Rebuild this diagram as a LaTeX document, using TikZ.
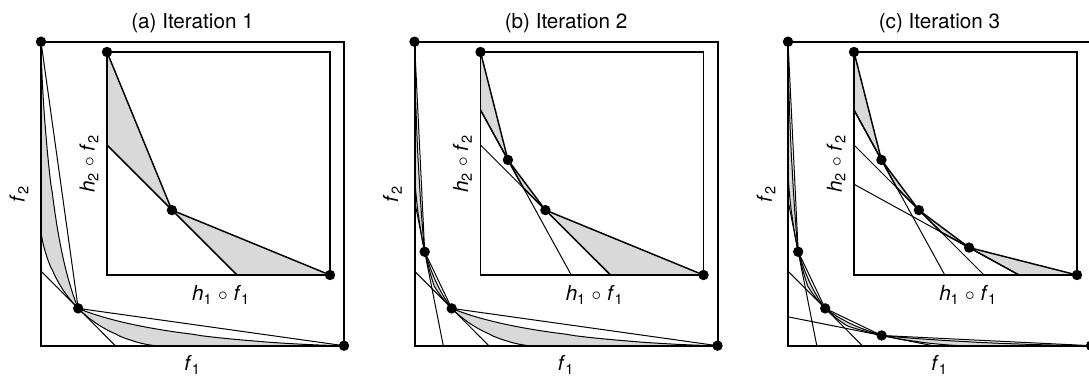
\documentclass[tikz,border=0pt]{standalone}
\usepackage{fontspec}
\setmainfont{TeX Gyre Heros}
% image of a segment of the transformed space in the objective space
\newcommand\hmap[4]{plot[domain=0:1,samples=30,variable=\lam] ({g(#1+(#3-#1)*\lam)},{g(#2+(#4-#2)*\lam)})}
\newcommand\hmapto[4]{-- plot[domain=0:1,samples=30,variable=\lam] ({g(#1+(#3-#1)*\lam)},{g(#2+(#4-#2)*\lam)})}
\tikzset{
  boxline/.style={line width=1.5pt},
  inbox/.style={line width=1.3pt},
  front/.style={line width=1.1pt},
  supp/.style={line width=0.75pt},
  fcurve/.style={line width=0.75pt},
  gap/.style={fill=black!15},
  ptdot/.style={circle,fill,inner sep=0pt,minimum size=7.8pt},
  lbl/.style={font=\fontsize{15.5pt}{18pt}\selectfont,inner sep=0pt}
}
\begin{document}
\begin{tikzpicture}[x=0.75pt,y=0.75pt,
  declare function={g(\s)=0.6*max(\s,0.0001)^1.4+0.4*max(\s,0.0001)^2.6;}]
\useasboundingbox (0,0) rectangle (1089,379);

% titles and axis labels
\foreach \k/\tg/\n in {0/a/1,1/b/2,2/c/3} {
  \pgfmathsetmacro\X{41+373.5*\k}
  \node[lbl] (title\k) at (\X+151.5,356) {(\tg) Iteration \n};
  \node[lbl] (fx\k) at (\X+151.5,14) {\textit{f}\textsubscript{1}};
  \node[lbl,rotate=90] (fy\k) at (\X-22,185) {\textit{f}\textsubscript{2}};
  \node[lbl] (hx\k) at (\X+180,84) {\textit{h}\textsubscript{1} $\circ$ \textit{f}\textsubscript{1}};
  \node[lbl,rotate=90] (hy\k) at (\X+48,215) {\textit{h}\textsubscript{2} $\circ$ \textit{f}\textsubscript{2}};
}

% (a) objective space
\begin{scope}[shift={(41,33.3)},x=227.25pt,y=228pt]
  \fill[gap] \hmap{0}{1}{0.291}{0.291} \hmapto{0.291}{0.291}{0}{0.583} -- cycle;
  \fill[gap] \hmap{0.291}{0.291}{1}{0} \hmapto{0.583}{0}{0.291}{0.291} -- cycle;
  \draw[fcurve] \hmap{0}{1}{0.291}{0.291} \hmap{0.291}{0.291}{1}{0};
  \draw[fcurve] \hmap{0}{0.583}{0.291}{0.291} \hmapto{0.291}{0.291}{0.583}{0};
  \coordinate (aF0) at (0,1);
  \coordinate (aF1) at (0.1227,0.1227);
  \coordinate (aF2) at (1,0);
  \coordinate (aT1) at (0,0.2454);
  \coordinate (aT2) at (0.2454,0);
  \draw[fcurve] (aT1) -- (aT2);
  \draw[fcurve] (aF0) -- (aF1) -- (aF2);
  \draw[boxline] (0,0) rectangle (1,1);
  \foreach \c in {aF0,aF1,aF2} \node[ptdot] (\c d) at (\c) {};
\end{scope}
% (a) transformed space
\begin{scope}[shift={(107,104)},x=167.25pt,y=167.25pt]
  \coordinate (aH0) at (0,1);
  \coordinate (aH1) at (0.291,0.291);
  \coordinate (aH2) at (1,0);
  \coordinate (aL2l) at (0,0.583);
  \coordinate (aL2b) at (0.583,0);
  \fill[gap] (aH0) -- (aH1) -- (aL2l) -- cycle;
  \fill[gap] (aH1) -- (aH2) -- (aL2b) -- cycle;
  \draw[inbox] (0,0) rectangle (1,1);
  \draw[front] (aL2l) -- (aL2b);
  \draw[front] (aH0) -- (aH1) -- (aH2);
  \foreach \c in {aH0,aH1,aH2} \node[ptdot] (\c d) at (\c) {};
\end{scope}

% (b) objective space
\begin{scope}[shift={(414.5,33.3)},x=227.25pt,y=228pt]
  \fill[gap] \hmap{0}{1}{0.123}{0.516} \hmapto{0.123}{0.516}{0}{0.74} -- cycle;
  \fill[gap] \hmap{0.123}{0.516}{0.291}{0.291} \hmapto{0.291}{0.291}{0.1919}{0.3911}
    \hmapto{0.1919}{0.3911}{0.123}{0.516} -- cycle;
  \fill[gap] \hmap{0.291}{0.291}{1}{0} \hmapto{0.583}{0}{0.291}{0.291} -- cycle;
  \draw[fcurve] \hmap{0}{1}{0.123}{0.516} \hmap{0.123}{0.516}{0.291}{0.291} \hmap{0.291}{0.291}{1}{0};
  \draw[fcurve] \hmap{0}{0.74}{0.123}{0.516} \hmapto{0.123}{0.516}{0.1919}{0.3911}
    \hmapto{0.1919}{0.3911}{0.291}{0.291} \hmapto{0.291}{0.291}{0.583}{0};
  \coordinate (bF0) at (0,1);
  \coordinate (bF1) at (0.0336,0.309);
  \coordinate (bF2) at (0.1227,0.1227);
  \coordinate (bF3) at (1,0);
  \coordinate (bT1) at (0,0.478);
  \coordinate (bT2) at (0.095,0);
  \coordinate (bT3) at (0,0.2454);
  \coordinate (bT4) at (0.2454,0);
  \draw[fcurve] (bT1) -- (bT2);
  \draw[fcurve] (bT3) -- (bT4);
  \draw[fcurve] (bF0) -- (bF1) -- (bF2) -- (bF3);
  \draw[boxline] (0,0) rectangle (1,1);
  \foreach \c in {bF0,bF1,bF2,bF3} \node[ptdot] (\c d) at (\c) {};
\end{scope}
% (b) transformed space
\begin{scope}[shift={(480.5,104)},x=167.25pt,y=167.25pt]
  \coordinate (bH0) at (0,1);
  \coordinate (bH1) at (0.123,0.516);
  \coordinate (bH2) at (0.291,0.291);
  \coordinate (bH3) at (1,0);
  \coordinate (bQ1) at (0.1919,0.3911);
  \coordinate (bL1l) at (0,0.74);
  \coordinate (bL1b) at (0.407,0);
  \coordinate (bL2l) at (0,0.583);
  \coordinate (bL2b) at (0.583,0);
  \fill[gap] (bH0) -- (bH1) -- (bL1l) -- cycle;
  \fill[gap] (bH1) -- (bQ1) -- (bH2) -- cycle;
  \fill[gap] (bH2) -- (bH3) -- (bL2b) -- cycle;
  \draw[inbox] (0,0) rectangle (1,1);
  \draw[supp] (bL1l) -- (bL1b);
  \draw[supp] (bL2l) -- (bL2b);
  \draw[front] (bL1l) -- (bH1) -- (bQ1) -- (bH2) -- (bL2b);
  \draw[front] (bH0) -- (bH1) -- (bH2) -- (bH3);
  \foreach \c in {bH0,bH1,bH2,bH3} \node[ptdot] (\c d) at (\c) {};
\end{scope}

% (c) objective space
\begin{scope}[shift={(788,33.3)},x=227.25pt,y=228pt]
  \fill[gap] \hmap{0}{1}{0.123}{0.516} \hmapto{0.123}{0.516}{0}{0.74} -- cycle;
  \fill[gap] \hmap{0.123}{0.516}{0.291}{0.291} \hmapto{0.291}{0.291}{0.1919}{0.3911}
    \hmapto{0.1919}{0.3911}{0.123}{0.516} -- cycle;
  \fill[gap] \hmap{0.291}{0.291}{0.516}{0.123} \hmapto{0.516}{0.123}{0.3911}{0.1919}
    \hmapto{0.3911}{0.1919}{0.291}{0.291} -- cycle;
  \fill[gap] \hmap{0.516}{0.123}{1}{0} \hmapto{0.74}{0}{0.516}{0.123} -- cycle;
  \draw[fcurve] \hmap{0}{1}{0.123}{0.516} \hmap{0.123}{0.516}{0.291}{0.291}
    \hmap{0.291}{0.291}{0.516}{0.123} \hmap{0.516}{0.123}{1}{0};
  \draw[fcurve] \hmap{0}{0.74}{0.123}{0.516} \hmapto{0.123}{0.516}{0.1919}{0.3911}
    \hmapto{0.1919}{0.3911}{0.291}{0.291} \hmapto{0.291}{0.291}{0.3911}{0.1919}
    \hmapto{0.3911}{0.1919}{0.516}{0.123} \hmapto{0.516}{0.123}{0.74}{0};
  \coordinate (cF0) at (0,1);
  \coordinate (cF1) at (0.0336,0.309);
  \coordinate (cF2) at (0.1227,0.1227);
  \coordinate (cF3) at (0.309,0.0336);
  \coordinate (cF4) at (1,0);
  \coordinate (cT1) at (0,0.478);
  \coordinate (cT2) at (0.095,0);
  \coordinate (cT3) at (0,0.2454);
  \coordinate (cT4) at (0.2454,0);
  \coordinate (cT5) at (0,0.095);
  \coordinate (cT6) at (0.478,0);
  \draw[fcurve] (cT1) -- (cT2);
  \draw[fcurve] (cT3) -- (cT4);
  \draw[fcurve] (cT5) -- (cT6);
  \draw[fcurve] (cF0) -- (cF1) -- (cF2) -- (cF3) -- (cF4);
  \draw[boxline] (0,0) rectangle (1,1);
  \foreach \c in {cF0,cF1,cF2,cF3,cF4} \node[ptdot] (\c d) at (\c) {};
\end{scope}
% (c) transformed space
\begin{scope}[shift={(854,104)},x=167.25pt,y=167.25pt]
  \coordinate (cH0) at (0,1);
  \coordinate (cH1) at (0.123,0.516);
  \coordinate (cH2) at (0.291,0.291);
  \coordinate (cH3) at (0.516,0.123);
  \coordinate (cH4) at (1,0);
  \coordinate (cQ1) at (0.1919,0.3911);
  \coordinate (cQ2) at (0.3911,0.1919);
  \coordinate (cL1l) at (0,0.74);
  \coordinate (cL1b) at (0.407,0);
  \coordinate (cL2l) at (0,0.583);
  \coordinate (cL2b) at (0.583,0);
  \coordinate (cL3l) at (0,0.407);
  \coordinate (cL3b) at (0.74,0);
  \fill[gap] (cH0) -- (cH1) -- (cL1l) -- cycle;
  \fill[gap] (cH1) -- (cQ1) -- (cH2) -- cycle;
  \fill[gap] (cH2) -- (cQ2) -- (cH3) -- cycle;
  \fill[gap] (cH3) -- (cH4) -- (cL3b) -- cycle;
  \draw[inbox] (0,0) rectangle (1,1);
  \draw[supp] (cL1l) -- (cL1b);
  \draw[supp] (cL2l) -- (cL2b);
  \draw[supp] (cL3l) -- (cL3b);
  \draw[front] (cL1l) -- (cH1) -- (cQ1) -- (cH2) -- (cQ2) -- (cH3) -- (cL3b);
  \draw[front] (cH0) -- (cH1) -- (cH2) -- (cH3) -- (cH4);
  \foreach \c in {cH0,cH1,cH2,cH3,cH4} \node[ptdot] (\c d) at (\c) {};
\end{scope}
\end{tikzpicture}
\end{document}
